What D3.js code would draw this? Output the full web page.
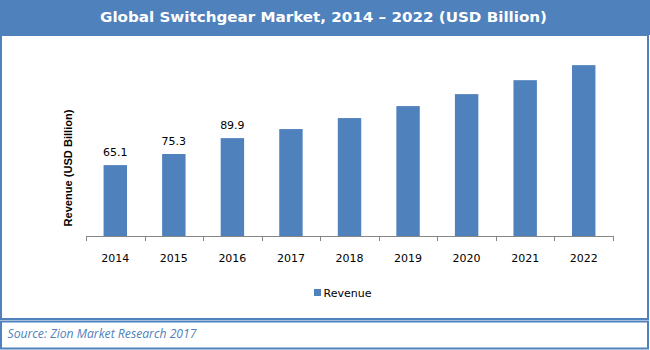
<!DOCTYPE html>
<html>
<head>
<meta charset="utf-8">
<script src="https://cdn.jsdelivr.net/npm/d3@7"></script>
<style>
  body { margin: 0; background: #fff; }
  svg { display: block; }
</style>
</head>
<body>
<div id="chart"></div>
<script>
const years = ["2014", "2015", "2016", "2017", "2018", "2019", "2020", "2021", "2022"];
const revenue = [65.1, 75.3, 89.9, 98.2, 108.3, 119.3, 130.3, 143.1, 156.9];
const labelledYears = ["2014", "2015", "2016"];
const seriesName = "Revenue";
const yDomain = [0, 180];

const W = 650, H = 350;
const blue = "#4f81bd";
const font = "'DejaVu Sans', Verdana, sans-serif";

const svg = d3.select("#chart")
              .append("svg")
              .attr("width", W)
              .attr("height", H);

const data = years.map((y, i) => ({ year: y, value: revenue[i] }));

// Title bar
svg.append("rect")
   .attr("x", 0).attr("y", 0)
   .attr("width", W).attr("height", 35)
   .attr("fill", blue);

svg.append("text")
   .attr("x", 323.5)
   .attr("y", 22)
   .attr("text-anchor", "middle")
   .attr("fill", "#fff")
   .style("font-family", font)
   .style("font-weight", "bold")
   .style("font-size", "14.5px")
   .attr("textLength", 447)
   .attr("lengthAdjust", "spacingAndGlyphs")
   .text("Global Switchgear Market, 2014 \u2013 2022 (USD Billion)");

// Frames
svg.append("rect")
   .attr("x", 1).attr("y", 35)
   .attr("width", 647).attr("height", 284)
   .attr("fill", "none")
   .attr("stroke", blue)
   .attr("stroke-width", 2);

svg.append("rect")
   .attr("x", 1).attr("y", 321.5)
   .attr("width", 647).attr("height", 27)
   .attr("fill", "none")
   .attr("stroke", blue)
   .attr("stroke-width", 2);

// Scales
const x = d3.scaleBand()
            .domain(years)
            .range([86, 613])
            .paddingInner(0.6)
            .paddingOuter(0.3);

const y = d3.scaleLinear()
            .domain(yDomain)
            .range([236, 40]);

// Bars
svg.selectAll(".bar")
   .data(data)
   .join("rect")
   .attr("class", "bar")
   .attr("x", d => x(d.year))
   .attr("y", d => y(d.value))
   .attr("width", x.bandwidth())
   .attr("height", d => y(0) - y(d.value))
   .attr("fill", blue);

// Data labels
svg.selectAll(".lbl")
   .data(data.filter(d => labelledYears.includes(d.year)))
   .join("text")
   .attr("class", "lbl")
   .attr("x", d => x(d.year) + x.bandwidth() / 2)
   .attr("y", d => y(d.value) - 9)
   .attr("text-anchor", "middle")
   .style("font-family", font)
   .style("font-size", "11px")
   .attr("fill", "#000")
   .text(d => d.value.toFixed(1));

// X axis line and boundary ticks
const axis = svg.append("g");
axis.append("line")
    .attr("x1", 86).attr("x2", 613)
    .attr("y1", y(0) + 0.5).attr("y2", y(0) + 0.5)
    .attr("stroke", "#868686");

const step = x.step();
const bounds = d3.range(years.length + 1).map(i => x(years[0]) - x.paddingOuter() * step + i * step);
axis.selectAll(".tk")
    .data(bounds)
    .join("line")
    .attr("x1", d => Math.round(d) + 0.5).attr("x2", d => Math.round(d) + 0.5)
    .attr("y1", y(0)).attr("y2", y(0) + 5)
    .attr("stroke", "#868686");

axis.selectAll(".xl")
    .data(years)
    .join("text")
    .attr("x", d => x(d) + x.bandwidth() / 2)
    .attr("y", 262)
    .attr("text-anchor", "middle")
    .style("font-family", font)
    .style("font-size", "11px")
    .attr("fill", "#000")
    .text(d => d);

// Y axis title
svg.append("text")
   .attr("transform", "translate(72,168) rotate(-90)")
   .attr("text-anchor", "middle")
   .style("font-family", "'Liberation Sans', Arial, sans-serif")
   .style("font-weight", "bold")
   .style("font-size", "11px")
   .attr("textLength", 117)
   .attr("lengthAdjust", "spacingAndGlyphs")
   .attr("fill", "#000")
   .text("Revenue (USD Billion)");

// Legend
svg.append("rect")
   .attr("x", 314).attr("y", 289)
   .attr("width", 7).attr("height", 7)
   .attr("fill", blue);

svg.append("text")
   .attr("x", 323.5)
   .attr("y", 296.5)
   .style("font-family", font)
   .style("font-size", "11px")
   .attr("fill", "#000")
   .text(seriesName);

// Source
svg.append("text")
   .attr("x", 7.5)
   .attr("y", 337.5)
   .style("font-family", "'Open Sans', sans-serif")
   .style("font-style", "italic")
   .style("font-size", "12px")
   .attr("textLength", 189)
   .attr("lengthAdjust", "spacingAndGlyphs")
   .attr("fill", blue)
   .text("Source: Zion Market Research 2017");
</script>
</body>
</html>
